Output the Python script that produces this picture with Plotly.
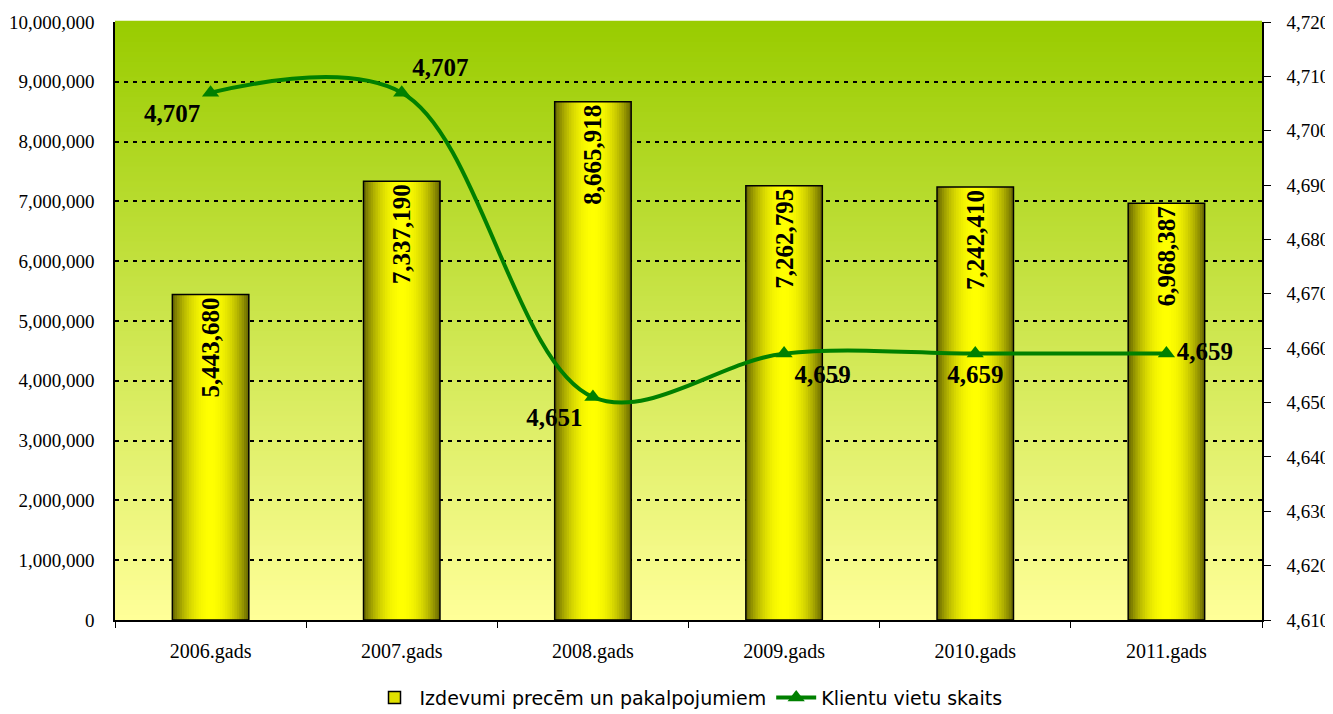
import plotly.graph_objects as go

# Data
years = ["2006.gads", "2007.gads", "2008.gads", "2009.gads", "2010.gads", "2011.gads"]
expenses = [5443680, 7337190, 8665918, 7262795, 7242410, 6968387]
clients = [4707, 4707, 4651, 4659, 4659, 4659]
client_label_pos = ["bottom left", "top right", "bottom left", "bottom right", "bottom center", "middle right"]

bar_name = "Izdevumi precēm un pakalpojumiem"
line_name = "Klientu vietu skaits"

serif = "Liberation Serif"


def mix(c1, c2, t):
    return "rgb(%d,%d,%d)" % tuple(round(a + (b - a) * t) for a, b in zip(c1, c2))


fig = go.Figure()

# Cylinder-like bars: nested bar layers, olive at the edges, yellow in the middle
olive = (110, 110, 0)
yellow = (255, 255, 0)
bar_w = 0.40
n_layers = 16
for k in range(n_layers):
    frac = 1 - k / n_layers
    fig.add_trace(go.Bar(
        x=years, y=expenses,
        width=bar_w * frac,
        marker=dict(color=mix(olive, yellow, 1 - frac ** 2.2), line=dict(width=0)),
        showlegend=False, hoverinfo="skip",
    ))

# Outline + value labels on top
fig.add_trace(go.Bar(
    x=years, y=expenses,
    width=bar_w,
    marker=dict(color="rgba(0,0,0,0)", line=dict(color="black", width=1.5)),
    texttemplate="%{y:,.0f}",
    textposition="inside",
    insidetextanchor="end",
    textangle=-90,
    textfont=dict(family=serif, size=25, color="black", weight="bold"),
    showlegend=False, name=bar_name,
))

# Legend entry for the bars
fig.add_trace(go.Bar(
    x=years[:1], y=[None],
    marker=dict(color="#e0e000", line=dict(color="black", width=1.5)),
    name=bar_name,
))

# Client count line on the right axis
fig.add_trace(go.Scatter(
    x=years, y=clients, yaxis="y2",
    name=line_name,
    mode="lines+markers+text",
    line=dict(color="#008000", width=4, shape="spline"),
    marker=dict(symbol="triangle-up", size=15, color="#008000"),
    texttemplate="%{y:,.0f}",
    textposition=client_label_pos,
    textfont=dict(family=serif, size=25, color="black", weight="bold"),
    cliponaxis=False,
))

# Vertical gradient background of the plot area
top_c = (153, 204, 0)
bot_c = (255, 255, 153)
n_bands = 120
shapes = []
for i in range(n_bands):
    shapes.append(dict(
        type="rect", xref="paper", yref="paper",
        x0=0, x1=1, y0=i / n_bands, y1=(i + 1) / n_bands + 0.002,
        fillcolor=mix(bot_c, top_c, (i + 0.5) / n_bands),
        line=dict(width=0), layer="below",
    ))

# page body adds an 8px offset, so the figure is 8px smaller and margins shifted
fig.update_layout(
    width=1325, height=706,
    margin=dict(l=107, r=71, t=14, b=94, autoexpand=False),
    paper_bgcolor="white",
    plot_bgcolor="rgba(0,0,0,0)",
    barmode="overlay",
    shapes=shapes,
    showlegend=True,
    legend=dict(
        orientation="h", x=0.5, xanchor="center", y=-0.13, yanchor="middle",
        font=dict(family="DejaVu Sans", size=19, color="black"),
        traceorder="normal", itemwidth=40,
    ),
    xaxis=dict(
        type="category", range=[-0.5, 5.5], automargin=False,
        showline=True, linecolor="black", linewidth=1.5,
        ticks="outside", tickson="boundaries", ticklen=6, tickcolor="black",
        ticklabelstandoff=12,
        tickfont=dict(family=serif, size=20, color="black"),
        showgrid=False,
    ),
    yaxis=dict(
        range=[0, 10000000], dtick=1000000, tickformat=",", automargin=False,
        showgrid=True, gridcolor="black", gridwidth=2, griddash="4px,5px",
        showline=True, linecolor="black", linewidth=1.5,
        zeroline=False, ticks="", ticklabelstandoff=15,
        tickfont=dict(family=serif, size=19, color="black"),
    ),
    yaxis2=dict(
        overlaying="y", side="right", automargin=False,
        range=[4610, 4720], dtick=10, tickformat=",",
        showgrid=False, zeroline=False,
        showline=True, linecolor="black", linewidth=1.5,
        ticks="outside", ticklen=7, tickcolor="black", ticklabelstandoff=12,
        tickfont=dict(family=serif, size=19, color="black"),
    ),
)

fig.write_html("out.html")
